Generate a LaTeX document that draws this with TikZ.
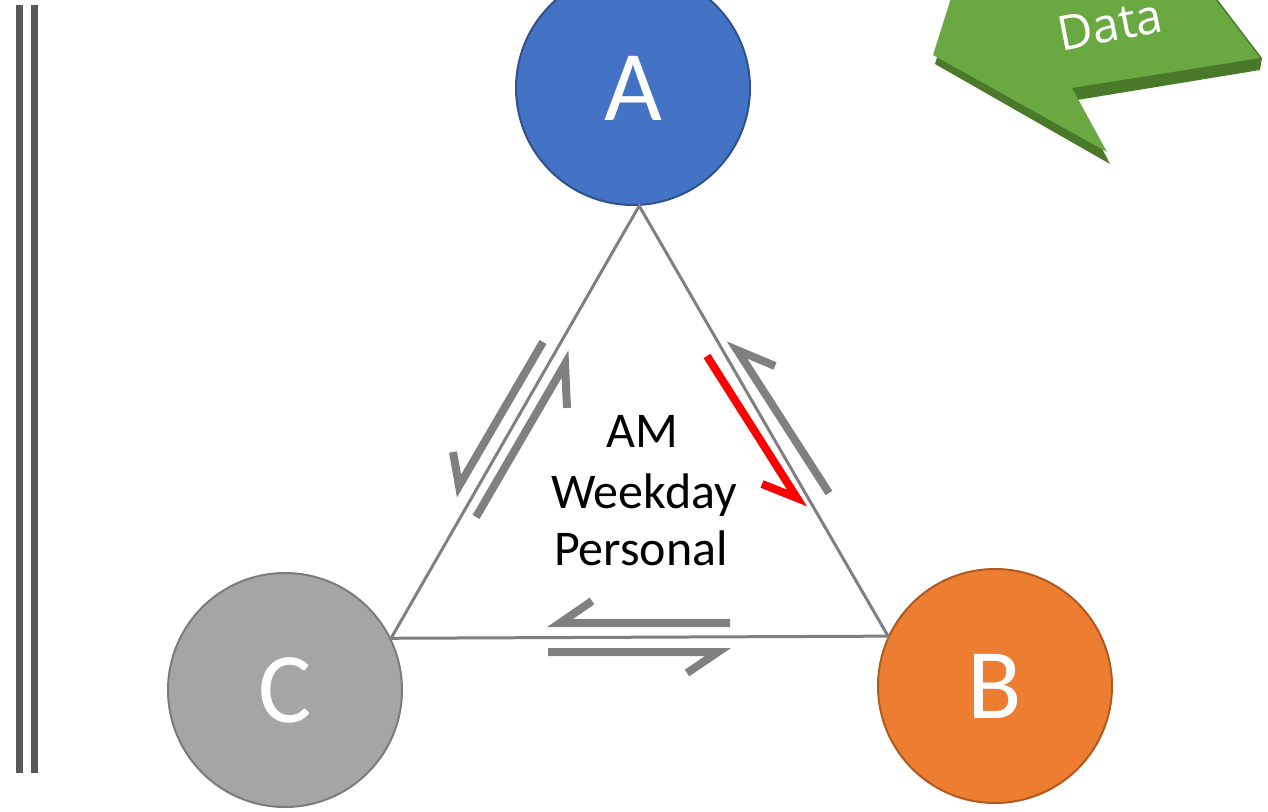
\documentclass[tikz,border=0pt]{standalone}
\usepackage{fontspec}
\setmainfont{Carlito}
\newfontfamily\datafont{Open Sans}
\definecolor{cA}{HTML}{4472C4}
\definecolor{cAd}{HTML}{2F528F}
\definecolor{cB}{HTML}{ED7D31}
\definecolor{cBd}{HTML}{AE5A21}
\definecolor{cC}{HTML}{A5A5A5}
\definecolor{cCd}{HTML}{7B7B7B}
\definecolor{edge}{HTML}{808080}
\definecolor{bar}{HTML}{595959}
\definecolor{gface}{RGB}{106,168,66}
\definecolor{gside}{RGB}{72,122,42}
\tikzset{
  ball/.style={circle, minimum size=234pt, inner sep=0pt, line width=2pt, text=white, font=\fontsize{100}{110}\selectfont},
  tri/.style={draw=edge, line width=3pt},
  harp/.style={draw=edge, line width=8pt, line join=miter, miter limit=4},
  redharp/.style={harp, draw=red},
  vbar/.style={draw=bar, line width=7pt},
  lbl/.style={anchor=base, inner sep=0pt, font=\fontsize{50}{60}\selectfont}
}
\begin{document}
\begin{tikzpicture}[x=1pt,y=-1pt]
\useasboundingbox (0,0) rectangle (1268,811);
% left bars
\coordinate (b1t) at (19.5,5); \coordinate (b1b) at (19.5,773);
\coordinate (b2t) at (34,5); \coordinate (b2b) at (34,773);
\draw[vbar] (b1t) -- (b1b);
\draw[vbar] (b2t) -- (b2b);
% green arrow
\fill[gside] (956,-5) -- (935,64) -- (1110,164) -- (1077,100) -- (1260,70) -- (1262,58) -- (1214,-5) -- cycle;
\fill[gface] (952,-5) -- (933,55) -- (1107,152) -- (1072,88) -- (1260,58) -- (1212,-5) -- cycle;
\node[text=white, rotate=11, inner sep=0pt, font=\datafont\fontsize{48}{54}\selectfont] (data) at (1110,25) {Data};
% circles
\node[ball, fill=cA, draw=cAd] (A) at (633,88) {A};
\node[ball, fill=cB, draw=cBd] (B) at (995,686) {B};
\node[ball, fill=cC, draw=cCd] (C) at (285,690) {C};
% triangle
\draw[tri] (A.-87) -- (C.26) -- (B.155) -- cycle;
% text
\node[lbl] (t1) at (642,447) {AM};
\node[lbl] (t2) at (644,508) {Weekday};
\node[lbl] (t3) at (641,565) {Personal};
% left edge harpoons
\coordinate (lo1) at (543,342); \coordinate (lo2) at (459,486); \coordinate (lo3) at (453,452);
\draw[harp] (lo1) -- (lo2) -- (lo3);
\coordinate (li1) at (476,517); \coordinate (li2) at (565,364); \coordinate (li3) at (567,408);
\draw[harp] (li1) -- (li2) -- (li3);
% right edge harpoons
\coordinate (ro1) at (829,493); \coordinate (ro2) at (737,350); \coordinate (ro3) at (775,366);
\draw[harp] (ro1) -- (ro2) -- (ro3);
\coordinate (rr1) at (707,356); \coordinate (rr2) at (797,498); \coordinate (rr3) at (762,484);
\draw[redharp] (rr1) -- (rr2) -- (rr3);
% bottom harpoons
\coordinate (bt1) at (730,623); \coordinate (bt2) at (560,623); \coordinate (bt3) at (592,601);
\draw[harp] (bt1) -- (bt2) -- (bt3);
\coordinate (bb1) at (548,652); \coordinate (bb2) at (718,652); \coordinate (bb3) at (687,673);
\draw[harp] (bb1) -- (bb2) -- (bb3);
\end{tikzpicture}
\end{document}
